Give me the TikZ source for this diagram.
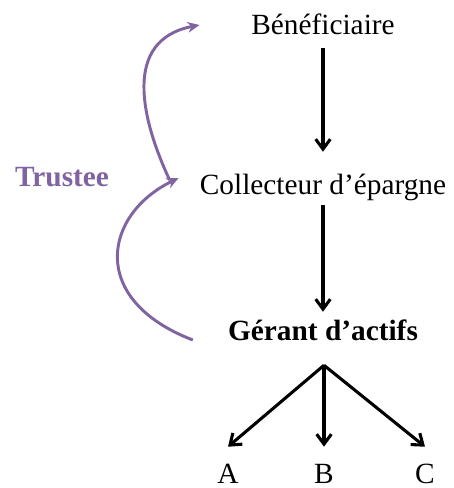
\documentclass[tikz,border=0pt]{standalone}
\usepackage{fontspec}
\setmainfont{Liberation Serif}
\usetikzlibrary{arrows.meta,positioning}
\definecolor{trustpurple}{RGB}{128,100,162}

\begin{document}
\begin{tikzpicture}[x=0.75pt, y=-0.75pt,
  txt/.style={font=\fontsize{22}{26}\selectfont, inner sep=0pt, anchor=base, text height=15pt, text depth=0pt},
  leaf/.style={txt, inner ysep=12pt},
  flow/.style={line width=2.3pt, -{Straight Barb[length=7.5pt, width=11pt]}},
  trust/.style={draw=trustpurple, line width=2.2pt, -{Stealth[length=9pt, width=8pt]}}]
\useasboundingbox (0,0) rectangle (453,488);
\node[txt] (benef) at (323,35) {Bénéficiaire};
\node[txt] (collect) at (323,195) {Collecteur d’épargne};
\node[txt, font={\fontsize{22}{26}\selectfont\bfseries}] (gerant) at (323,340) {Gérant d’actifs};
\node[txt, text=trustpurple, font={\fontsize{22}{26}\selectfont\bfseries}] (trustee) at (62,186) {Trustee};
\node[leaf] (a) at (228,483) {A};
\node[leaf] (b) at (324,483) {B};
\node[leaf] (c) at (425,483) {C};
\coordinate (fork) at ([shift={(1,25)}]gerant.south);

\draw[flow, shorten <=9.75pt, shorten >=17.25pt] (benef.south) -- (collect.north);
\draw[flow, shorten <=7.5pt, shorten >=6pt] (collect.south) -- (gerant.north);
\foreach \leaf in {a,b,c}
  \draw[flow] (fork) -- (\leaf.north);

% trustee braces
\draw[trust] ([shift={(-30,-5)}]collect.west) to[out=115, in=191, out distance=49.7pt, in distance=59.6pt] ([shift={(-51.5,0)}]benef.west);
\draw[trust] ([shift={(-35,10)}]gerant.west) to[out=159, in=206, out distance=84.3pt, in distance=62.7pt] ([shift={(-21,-7)}]collect.west);
\end{tikzpicture}
\end{document}
